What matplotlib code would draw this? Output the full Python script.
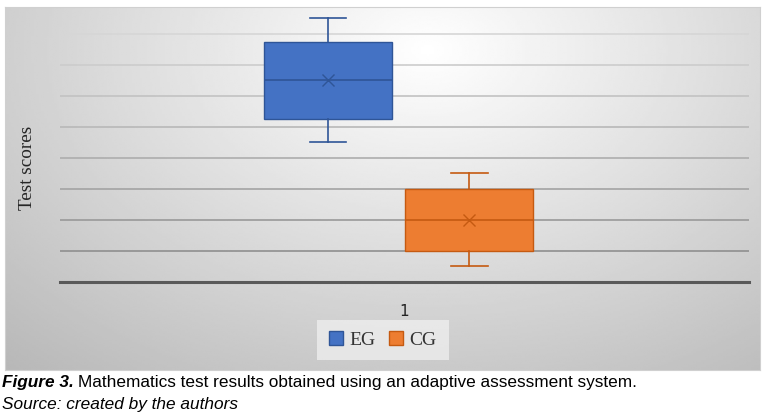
import numpy as np
import matplotlib.pyplot as plt
from matplotlib.patches import Patch

# data (arbitrary score units, gridline step = 10)
groups = ['EG', 'CG']
whisker_low = [45.2, 5.1]
q1 = [52.5, 10.0]
medians = [65.2, 19.9]
means = [65.2, 20.0]
q3 = [77.4, 29.9]
whisker_high = [85.2, 35.1]
category = ['1']

fills = ['#4472C4', '#ED7D31']
edges = ['#2F5597', '#C55A11']

fig = plt.figure(figsize=(7.68, 4.18), dpi=100)
fig.patch.set_facecolor('white')

# chart area with radial gradient background
bg = fig.add_axes([5 / 768, 48 / 418, 755 / 768, 363 / 418], zorder=0)
gx, gy = np.meshgrid(np.linspace(0, 1, 300), np.linspace(0, 1, 200))
d = np.sqrt(((gx - 0.56) / 0.75) ** 2 + ((gy - 0.12) / 1.05) ** 2)
shade = 1.0 - 0.25 * np.clip(d, 0, 1.3)
bg.imshow(shade, cmap='gray', vmin=0, vmax=1, aspect='auto',
          extent=[0, 1, 1, 0], interpolation='bilinear')
bg.set_xticks([])
bg.set_yticks([])
for s in bg.spines.values():
    s.set_color('#d0d0d0')
    s.set_linewidth(0.8)

ax = fig.add_axes([60 / 768, 136 / 418, 689 / 768, 272 / 418], zorder=1)
ax.patch.set_alpha(0)
ax.set_xlim(0.5, 1.5)
ax.set_ylim(0, 87.7)

offsets = [-0.111, 0.094]
width = 0.186
stats = []
for i, g in enumerate(groups):
    stats.append({'label': g, 'whislo': whisker_low[i], 'q1': q1[i], 'med': medians[i],
                  'mean': means[i], 'q3': q3[i], 'whishi': whisker_high[i], 'fliers': []})

for i in range(len(groups)):
    ax.bxp([stats[i]], positions=[1 + offsets[i]], widths=width, patch_artist=True,
           showmeans=True, manage_ticks=False,
           boxprops=dict(facecolor=fills[i], edgecolor=edges[i], linewidth=1.0),
           whiskerprops=dict(color=edges[i], linewidth=1.2),
           capprops=dict(color=edges[i], linewidth=1.2),
           medianprops=dict(color=edges[i], linewidth=1.2),
           meanprops=dict(marker='x', markeredgecolor=edges[i], markersize=9,
                          markeredgewidth=1.0),
           capwidths=0.053, zorder=3)

# gridlines get darker towards the bottom, like the reference
grid_vals = np.arange(10, 81, 10)
grid_cols = np.linspace(0.56, 0.84, len(grid_vals))
for v, c in zip(grid_vals, grid_cols):
    ax.axhline(v, color=str(c), linewidth=1.2, zorder=1)
ax.set_yticks([])
ax.tick_params(axis='y', left=False, labelleft=False)
ax.set_xticks([1])
ax.set_xticklabels(category, fontsize=11, family='DejaVu Sans', color='#222222')
ax.tick_params(axis='x', bottom=False, pad=12)
for s in ['top', 'right', 'left']:
    ax.spines[s].set_visible(False)
ax.spines['bottom'].set_color('#595959')
ax.spines['bottom'].set_linewidth(2.2)

fig.text(27 / 768, 1 - 168 / 418, 'Test scores', rotation=90, ha='center', va='center',
         family='Liberation Serif', fontsize=13.8, color='#262626')

handles = [Patch(facecolor=fills[i], edgecolor=edges[i], label=groups[i]) for i in range(2)]
leg = fig.legend(handles=handles, loc='center', bbox_to_anchor=(383 / 768, 1 - 340 / 418),
                 ncol=2, frameon=True, fancybox=False, handlelength=0.7, handleheight=0.7,
                 columnspacing=0.7, handletextpad=0.35, borderpad=0.6, borderaxespad=0,
                 prop={'family': 'Liberation Serif', 'size': 14})
leg.get_frame().set_facecolor('#f2f2f2')
leg.get_frame().set_alpha(0.7)
leg.get_frame().set_linewidth(0)
for t in leg.get_texts():
    t.set_color('#333333')

cap_font = ['Liberation Sans Narrow', 'Liberation Sans']
cap1 = fig.text(2 / 768, 1 - 383 / 418, 'Figure 3.', fontsize=12.4, style='italic',
                weight='bold', family=cap_font, va='center', ha='left')
fig.canvas.draw()
bb = cap1.get_window_extent()
fig.text((bb.x1 + 4) / 768, 1 - 383 / 418,
         'Mathematics test results obtained using an adaptive assessment system.',
         fontsize=12.4, family=cap_font, va='center', ha='left')
fig.text(2 / 768, 1 - 404 / 418, 'Source: created by the authors', fontsize=12.4,
         style='italic', family=cap_font, va='center', ha='left')

fig.savefig('out.png', dpi=100)
